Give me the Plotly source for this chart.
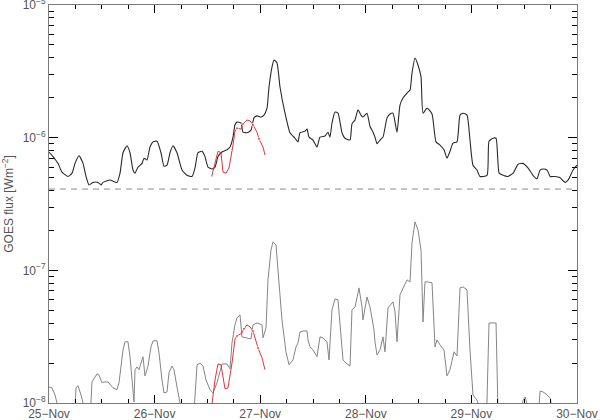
import pandas as pd
import plotly.graph_objects as go

START = pd.Timestamp("2013-11-25 00:00")

# GOES long channel (1-8 A) : hours since 25-Nov 00:00, flux W m^-2
long_hours = [0, 0.91, 2.05, 2.95, 4.32, 5.23, 5.91, 6.82, 7.73, 8.41, 9.09, 10.0, 11.14, 11.82,
              12.27, 13.86, 15.45, 16.14, 16.82, 17.73, 18.41, 19.09, 19.55, 20.23, 21.14, 21.59,
              22.27, 22.95, 23.64, 24.55, 25.45, 26.14, 26.82, 27.5, 28.18, 29.09, 30.23, 31.36,
              32.5, 33.18, 33.86, 34.77, 35.45, 36.14, 37.05, 37.73, 38.41, 39.32, 40.45, 41.14,
              41.82, 42.27, 42.73, 43.64, 44.09, 45.0, 45.91, 46.59, 47.27, 48.18, 48.86, 49.55,
              50.0, 50.68, 51.14, 51.82, 52.5, 53.64, 54.77, 55.91, 56.59, 57.05, 58.18, 58.64,
              59.09, 60.0, 60.91, 61.59, 62.73, 63.41, 63.86, 64.32, 65.0, 65.68, 66.59, 67.27,
              68.41, 68.86, 69.55, 70.23, 70.91, 71.36, 72.27, 72.95, 73.64, 74.09, 74.55, 75.23,
              75.91, 76.82, 77.5, 78.18, 79.09, 79.77, 80.45, 81.36, 82.05, 82.5, 83.18, 83.86,
              84.55, 85.0, 85.91, 87.05, 87.95, 88.86, 89.77, 90.45, 91.14, 91.82, 92.73, 93.41,
              94.09, 95.0, 95.68, 96.36, 97.27, 97.95, 99.55, 100.0, 100.9, 101.6, 102.3, 103.2,
              104.3, 105.5, 106.6, 107.7, 108.9, 110.0, 110.9, 111.6, 112.3, 113.2, 113.9, 115.0,
              116.1, 117.3, 118.0, 119.1, 120.0]
long_flux = [7.8e-7, 7.2e-7, 6.4e-7, 5.5e-7, 5.1e-7, 5.4e-7, 6.4e-7, 7.3e-7, 6.4e-7, 5.1e-7, 4.4e-7,
             4.6e-7, 4.6e-7, 4.4e-7, 4.6e-7, 4.8e-7, 4.6e-7, 5.4e-7, 7.7e-7, 8.7e-7, 7.7e-7, 5.7e-7,
             5.4e-7, 6.0e-7, 6.4e-7, 7.0e-7, 6.8e-7, 8.5e-7, 9.3e-7, 9.4e-7, 7.7e-7, 6.1e-7, 6.2e-7,
             7.7e-7, 8.7e-7, 7.7e-7, 5.7e-7, 5.2e-7, 5.1e-7, 5.9e-7, 7.7e-7, 7.9e-7, 7.2e-7, 6.0e-7,
             5.8e-7, 6.0e-7, 7.2e-7, 7.8e-7, 8.1e-7, 8.5e-7, 1.01e-6, 1.25e-6, 1.31e-6, 1.29e-6,
             1.10e-6, 1.09e-6, 1.14e-6, 1.41e-6, 1.46e-6, 1.43e-6, 1.48e-6, 1.67e-6, 2.41e-6,
             3.41e-6, 3.85e-6, 3.66e-6, 2.41e-6, 1.53e-6, 1.09e-6, 9.9e-7, 9.3e-7, 1.09e-6, 1.12e-6,
             1.16e-6, 1.01e-6, 9.6e-7, 8.5e-7, 1.01e-6, 1.03e-6, 1.10e-6, 1.01e-6, 1.29e-6, 1.56e-6,
             1.53e-6, 1.09e-6, 9.9e-7, 9.6e-7, 1.27e-6, 1.36e-6, 1.62e-6, 1.48e-6, 1.43e-6, 1.53e-6,
             1.22e-6, 1.10e-6, 1.01e-6, 9.0e-7, 9.6e-7, 1.01e-6, 1.41e-6, 1.51e-6, 1.53e-6, 1.10e-6,
             1.76e-6, 1.99e-6, 2.17e-6, 2.29e-6, 3.07e-6, 3.99e-6, 3.53e-6, 2.87e-6, 1.53e-6,
             1.67e-6, 1.51e-6, 9.3e-7, 8.8e-7, 8.1e-7, 7.0e-7, 7.9e-7, 9.1e-7, 9.3e-7, 1.48e-6,
             1.53e-6, 1.48e-6, 9.6e-7, 6.2e-7, 5.7e-7, 5.1e-7, 5.2e-7, 9.4e-7, 9.9e-7, 9.9e-7,
             5.4e-7, 5.2e-7, 5.1e-7, 5.4e-7, 6.3e-7, 6.4e-7, 5.9e-7, 5.2e-7, 4.9e-7, 5.7e-7, 5.8e-7,
             5.7e-7, 5.1e-7, 5.1e-7, 5.0e-7, 4.6e-7, 4.8e-7, 5.7e-7, 6.2e-7]

# GOES short channel (0.5-4 A); values under 1e-8 fall below the axis
short_hours = [0, 0.68, 1.36, 1.82, 2.05, 5.45, 6.14, 6.59, 7.27, 7.73, 7.95, 9.09, 9.77, 10.45,
               10.91, 11.36, 12.05, 12.5, 13.41, 14.55, 15.45, 15.91, 16.82, 17.27, 17.95, 18.41,
               19.09, 19.32, 19.55, 20.0, 20.45, 21.14, 21.36, 21.82, 22.5, 23.18, 23.64, 24.55,
               25.0, 25.68, 26.14, 26.82, 27.27, 27.95, 28.41, 29.09, 29.77, 30.0, 32.5, 33.64,
               34.32, 35.0, 35.68, 36.59, 37.27, 38.18, 39.32, 40.45, 41.14, 41.59, 42.27, 42.73,
               43.41, 43.86, 44.55, 45.91, 46.36, 47.27, 48.41, 48.64, 49.32, 49.77, 50.45, 50.91,
               51.59, 52.05, 52.95, 53.86, 54.55, 55.45, 56.14, 56.59, 57.05, 57.73, 58.64, 58.86,
               59.32, 60.0, 60.91, 61.59, 62.27, 63.18, 63.64, 64.32, 65.0, 65.68, 66.14, 66.82,
               67.73, 68.41, 68.86, 69.55, 70.0, 70.45, 71.14, 71.36, 72.27, 72.95, 73.86, 74.09,
               74.55, 75.23, 75.91, 76.36, 77.05, 78.18, 78.64, 79.09, 79.77, 80.45, 81.36, 82.05,
               82.5, 83.18, 83.86, 84.55, 85.0, 85.45, 86.14, 87.05, 87.73, 88.18, 88.86, 89.77,
               90.45, 91.14, 92.05, 92.73, 93.41, 94.09, 95.0, 95.68, 96.36, 97.27, 97.5, 97.7,
               99.3, 100.0, 100.9, 101.6, 102.0, 102.3, 106.8, 107.7, 108.2, 108.6, 108.9, 110.9,
               111.6, 112.3, 113.2, 113.9, 114.1, 114.3, 120.0]
short_flux = [1.32e-8, 1.30e-8, 1.15e-8, 1.0e-8, 5e-9, 5e-9, 1.30e-8, 1.35e-8, 1.15e-8, 1.0e-8,
              5e-9, 5e-9, 1.44e-8, 1.55e-8, 1.66e-8, 1.62e-8, 1.42e-8, 1.44e-8, 1.44e-8, 1.30e-8,
              1.26e-8, 1.42e-8, 2.51e-8, 2.89e-8, 2.89e-8, 2.23e-8, 1.26e-8, 1.02e-8, 1.78e-8,
              1.87e-8, 1.78e-8, 2.19e-8, 2.23e-8, 1.60e-8, 1.90e-8, 2.65e-8, 2.94e-8, 2.94e-8,
              2.39e-8, 1.49e-8, 1.19e-8, 1.21e-8, 1.69e-8, 1.90e-8, 1.78e-8, 1.32e-8, 1.0e-8, 5e-9,
              5e-9, 1.94e-8, 2.0e-8, 1.90e-8, 1.49e-8, 1.26e-8, 1.19e-8, 1.42e-8, 1.97e-8, 1.97e-8,
              1.81e-8, 2.84e-8, 3.88e-8, 4.38e-8, 4.61e-8, 3.15e-8, 3.10e-8, 3.04e-8, 3.88e-8,
              4.01e-8, 3.88e-8, 3.10e-8, 3.68e-8, 8.47e-8, 1.42e-7, 1.64e-7, 1.55e-7, 1.01e-7,
              4.23e-8, 2.43e-8, 1.94e-8, 2.11e-8, 2.65e-8, 2.84e-8, 3.43e-8, 3.49e-8, 3.49e-8,
              2.99e-8, 2.65e-8, 2.51e-8, 2.23e-8, 3.15e-8, 3.10e-8, 2.89e-8, 2.11e-8, 5.03e-8,
              6.09e-8, 5.99e-8, 3.75e-8, 2.11e-8, 1.97e-8, 1.90e-8, 5.03e-8, 5.30e-8, 6.19e-8,
              7.37e-8, 5.30e-8, 4.23e-8, 6.30e-8, 5.30e-8, 3.56e-8, 2.89e-8, 2.30e-8, 2.51e-8,
              3.15e-8, 2.43e-8, 5.21e-8, 5.78e-8, 4.86e-8, 2.89e-8, 6.53e-8, 7.37e-8, 8.47e-8,
              8.18e-8, 1.61e-7, 2.32e-7, 2.02e-7, 1.42e-7, 4.08e-8, 8.18e-8, 8.18e-8, 8.04e-8,
              2.65e-8, 2.99e-8, 2.74e-8, 2.51e-8, 1.60e-8, 1.78e-8, 2.43e-8, 2.26e-8, 7.37e-8,
              7.50e-8, 7.12e-8, 2.51e-8, 1.15e-8, 1.05e-8, 1.0e-8, 5e-9, 5e-9, 4.01e-8, 4.01e-8,
              4.01e-8, 1.0e-8, 5e-9, 5e-9, 1.04e-8, 1.11e-8, 1.0e-8, 5e-9, 5e-9, 1.23e-8, 1.21e-8,
              1.15e-8, 1.09e-8, 1.0e-8, 5e-9, 5e-9]

# red overlay (long and short channel estimates)
red_long_hours = [36.98, 37.95, 38.41, 39.09, 39.55, 40.23, 40.91, 41.82, 42.27, 42.73, 43.64,
                  44.09, 45.0, 45.68, 46.36, 47.27, 47.73, 48.64, 49.09]
red_long_flux = [5.1e-7, 7.0e-7, 7.9e-7, 7.7e-7, 5.5e-7, 5.4e-7, 5.9e-7, 8.8e-7, 1.12e-6, 1.18e-6,
                 1.16e-6, 1.27e-6, 1.36e-6, 1.34e-6, 1.25e-6, 1.10e-6, 9.8e-7, 8.5e-7, 7.4e-7]
red_short_hours = [36.9, 37.73, 38.41, 39.09, 39.55, 40.0, 40.68, 41.59, 42.27, 42.73, 43.86,
                   44.32, 45.0, 45.68, 46.36, 46.82, 47.5, 48.41, 49.09]
red_short_flux = [9e-9, 1.49e-8, 1.97e-8, 1.94e-8, 1.57e-8, 1.28e-8, 1.30e-8, 2.0e-8, 3.04e-8,
                  3.20e-8, 3.37e-8, 3.62e-8, 3.88e-8, 3.75e-8, 3.49e-8, 3.10e-8, 2.60e-8, 2.19e-8,
                  1.78e-8]
red_marked = [9, 11, 14, 16]

threshold_flux = 4.1e-7

day_offsets = [0, 1, 2, 3, 4, 5]
day_labels = ["25\u2212Nov", "26\u2212Nov", "27\u2212Nov", "28\u2212Nov", "29\u2212Nov", "30\u2212Nov"]
y_major = [1e-8, 1e-7, 1e-6, 1e-5]
y_labels = ["10<sup>\u22128</sup>", "10<sup>\u22127</sup>", "10<sup>\u22126</sup>", "10<sup>\u22125</sup>"]


def to_time(hours):
    return [START + pd.Timedelta(hours=h) for h in hours]


t_end = START + pd.Timedelta(days=5)
AX = "#7a7a7a"
TICK = "black"
TXT = "#555555"
FONT = "Liberation Sans"

fig = go.Figure()
fig.add_trace(go.Scatter(x=[START, t_end], y=[threshold_flux, threshold_flux], mode="lines",
                         line=dict(color="#8a8a8a", width=1, dash="6px,5px"), hoverinfo="skip"))
fig.add_trace(go.Scatter(x=to_time(short_hours), y=short_flux, mode="lines",
                         line=dict(color="#858585", width=1)))
fig.add_trace(go.Scatter(x=to_time(long_hours), y=long_flux, mode="lines",
                         line=dict(color="#2a2a2a", width=1.1, shape="spline", smoothing=0.5)))
sizes = [3 if i in red_marked else 0 for i in range(len(red_long_hours))]
fig.add_trace(go.Scatter(x=to_time(red_long_hours), y=red_long_flux, mode="lines+markers",
                         line=dict(color="#e8303a", width=1),
                         marker=dict(size=sizes, color="#e8303a")))
fig.add_trace(go.Scatter(x=to_time(red_short_hours), y=red_short_flux, mode="lines+markers",
                         line=dict(color="#e8303a", width=1),
                         marker=dict(size=sizes, color="#e8303a")))

minor_y = [k * d for d in [1e-8, 1e-7, 1e-6] for k in range(2, 10)]
tick_dates = [START + pd.Timedelta(days=d) for d in day_offsets]

fig.update_layout(
    width=600, height=420,
    margin=dict(l=49, r=23, t=5, b=17),
    paper_bgcolor="white", plot_bgcolor="white",
    showlegend=False,
    xaxis=dict(type="date", range=[START, t_end], tickvals=tick_dates, ticktext=day_labels,
               ticks="inside", ticklen=8, tickcolor=TICK, showline=True, linecolor=AX,
               mirror="allticks", showgrid=False, automargin=False, layer="above traces",
               ticklabeloverflow="allow", tickfont=dict(family=FONT, size=12, color=TXT),
               minor=dict(ticks="inside", ticklen=4, dtick=6 * 3600 * 1000, tickcolor=TICK)),
    yaxis=dict(type="log", range=[-8.0002, -4.9998], tickvals=y_major, ticktext=y_labels,
               ticks="inside", ticklen=9, tickcolor=TICK, showline=True, linecolor=AX,
               mirror="allticks", showgrid=False, automargin=False, layer="above traces",
               ticklabeloverflow="allow", tickfont=dict(family=FONT, size=12, color=TXT),
               minor=dict(ticks="inside", ticklen=5, tickvals=minor_y, tickcolor=TICK),
               title=dict(text="GOES flux [Wm<sup>\u22122</sup>]", standoff=10,
                          font=dict(family=FONT, size=12, color=TXT))),
)

fig.write_html("out.html", config={"displayModeBar": False},
               post_script="document.body.style.margin='0';")
